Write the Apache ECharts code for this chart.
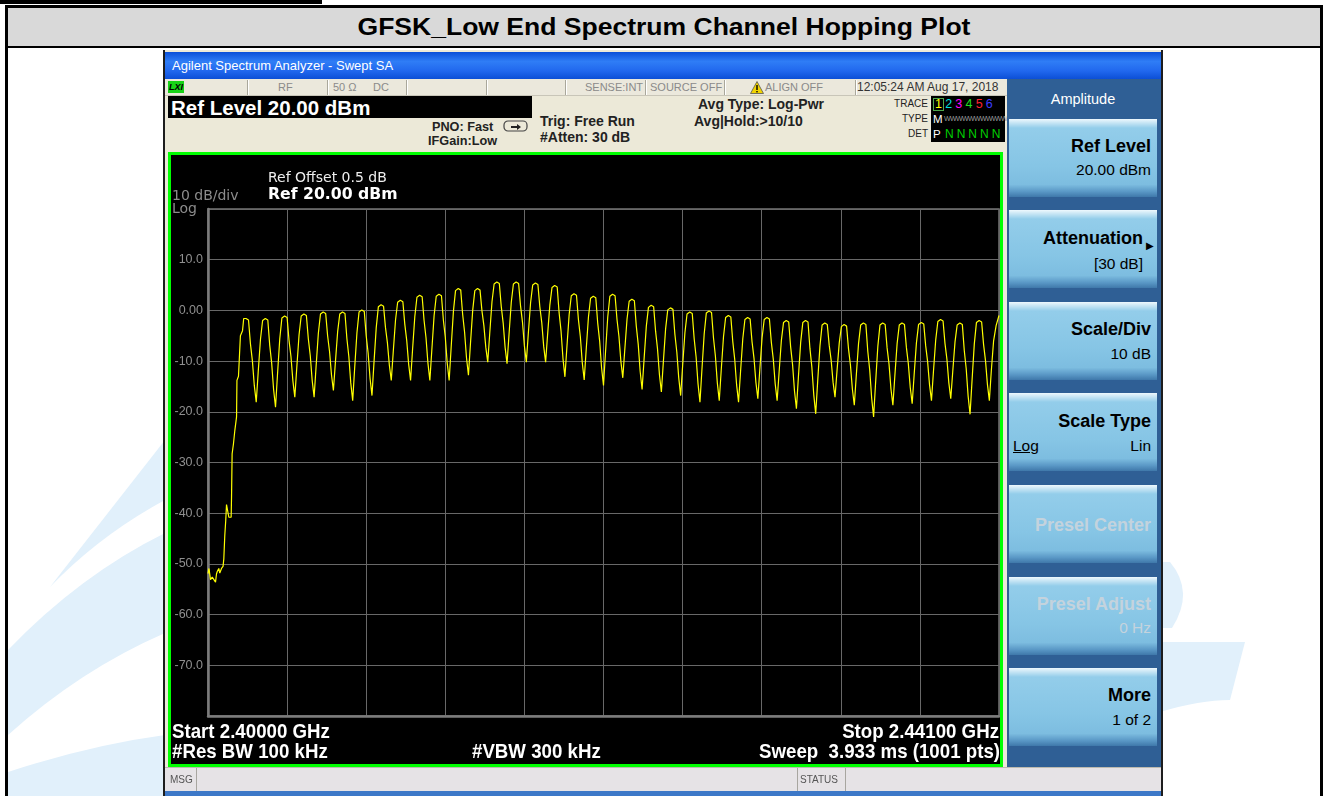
<!DOCTYPE html>
<html><head><meta charset="utf-8">
<script src="https://cdn.jsdelivr.net/npm/echarts@6/dist/echarts.min.js"></script>
<style>
html,body{margin:0;padding:0;width:1328px;height:796px;overflow:hidden;background:#fff;font-family:"Liberation Sans",Arial,sans-serif;}
.a{position:absolute;white-space:nowrap;}
.sep{position:absolute;top:80px;width:1px;height:15px;background:#a9a79b;border-right:1px solid #fff;}
.st{position:absolute;top:81px;font-size:11px;color:#8a8a8a;line-height:13px;}
.btn{position:absolute;left:1009px;width:148px;height:78px;background:linear-gradient(to bottom,#eef8fd 0px,#cfe9f6 3px,#93cdea 9px,#86c5e5 60%,#7dbde0 84%,#5a98c6 93%,#3f78aa 100%);}
.bt{position:absolute;right:6px;font-weight:bold;font-size:18px;color:#000;line-height:20px;}
.bv{position:absolute;right:6px;font-size:15.5px;color:#000;line-height:18px;}
.dim{color:#c4d3dd;}
.w{color:#fff;font-weight:bold;}
.dv{font-family:"DejaVu Sans","Liberation Sans",sans-serif;}
.nl{font-size:21px;line-height:22px;transform:scaleX(0.89);transform-origin:0 50%;}
.nr{font-size:21px;line-height:22px;transform:scaleX(0.89);transform-origin:100% 50%;text-align:right;}
</style></head><body>
<svg class="a" style="left:0;top:0" width="1328" height="796">
  <path d="M50,587 L165,440 L165,500 Q100,535 50,587 Z" fill="#e1f0fb"/>
  <path d="M8,650 Q80,575 165,533 L165,633 Q80,670 8,735 Z" fill="#e1f0fb"/>
  <path d="M8,772 Q90,745 165,735 L165,796 L8,796 Z" fill="#e1f0fb"/>
  <path d="M1160,562 L1170,562 Q1195,592 1172,628 L1160,628 Z" fill="#e1f0fb"/>
  <path d="M1160,642 L1245,642 L1230,700 Q1200,700 1160,712 Z" fill="#e1f0fb"/>
</svg>
<!-- document table -->
<div class="a" style="left:0;top:0;width:322px;height:4px;background:#000"></div>
<div class="a" style="left:5px;top:5px;width:1318px;height:800px;border:3px solid #000;box-sizing:border-box;border-bottom:none;"></div>
<div class="a" style="left:8px;top:8px;width:1312px;height:38px;background:#d9d9d9;border-bottom:2px solid #000;"></div>
<div class="a" style="left:8px;top:12px;width:1312px;text-align:center;font-weight:bold;font-size:24px;line-height:30px;color:#000;transform:scaleX(1.105);transform-origin:50% 50%;">GFSK_Low End Spectrum Channel Hopping Plot</div>

<!-- analyzer window -->
<div class="a" style="left:163px;top:50px;width:1000px;height:746px;background:#ece9d8;border-left:2px solid #1d1d1d;border-right:2px solid #1d1d1d;box-sizing:border-box;"></div>
<div class="a" style="left:165px;top:52px;width:996px;height:27px;background:linear-gradient(to bottom,#0a4fd8 0%,#2f7df6 35%,#2168ee 70%,#0c4fd6 100%);"></div>
<div class="a" style="left:172px;top:58px;font-size:13px;color:#fff;line-height:15px;">Agilent Spectrum Analyzer - Swept SA</div>
<!-- status row -->
<div class="a" style="left:165px;top:79px;width:842px;height:16px;background:#ebe8dc;border-bottom:1px solid #c8c5b8;"></div>
<div class="a" style="left:168px;top:81px;width:16px;height:12px;background:#17d217;font-size:9px;font-weight:bold;font-style:italic;line-height:12px;text-align:center;color:#000;">LXI</div>
<div class="sep" style="left:247px"></div><div class="sep" style="left:327px"></div><div class="sep" style="left:406px"></div>
<div class="sep" style="left:486px"></div><div class="sep" style="left:565px"></div><div class="sep" style="left:645px"></div>
<div class="sep" style="left:724px"></div><div class="sep" style="left:855px"></div>
<div class="st" style="left:278px">RF</div>
<div class="st" style="left:333px">50 Ω</div>
<div class="st" style="left:373px">DC</div>
<div class="st" style="left:585px">SENSE:INT</div>
<div class="st" style="left:650px">SOURCE OFF</div>
<svg class="a" style="left:750px;top:81px" width="14" height="13"><path d="M7,0.5 L13.5,12.5 L0.5,12.5 Z" fill="#f2d400" stroke="#555" stroke-width="0.8"/><rect x="6.3" y="4" width="1.4" height="5" fill="#000"/><rect x="6.3" y="10" width="1.4" height="1.4" fill="#000"/></svg>
<div class="st" style="left:765px">ALIGN OFF</div>
<div class="st" style="left:857px;color:#333;font-size:12px">12:05:24 AM Aug 17, 2018</div>
<!-- info row -->
<div class="a" style="left:168px;top:96px;width:364px;height:22px;background:#000;"></div>
<div class="a" style="left:171px;top:96px;font-size:20.5px;color:#fff;font-weight:bold;line-height:23px;">Ref Level 20.00 dBm</div>
<div class="a" style="left:432px;top:120px;font-size:12.7px;font-weight:bold;color:#222;line-height:14px;">PNO: Fast</div>
<div class="a" style="left:428px;top:134px;font-size:12.7px;font-weight:bold;color:#222;line-height:14px;">IFGain:Low</div>
<svg class="a" style="left:503px;top:120px" width="26" height="14"><rect x="1" y="1" width="23" height="10" rx="4" fill="none" stroke="#444" stroke-width="1.2"/><path d="M8,6 L14,6 L14,4 L18,7 L14,10 L14,8 L8,8 Z" fill="#222"/></svg>
<div class="a" style="left:540px;top:113px;font-size:14px;font-weight:bold;color:#222;line-height:16px;">Trig: Free Run</div>
<div class="a" style="left:540px;top:129px;font-size:14px;font-weight:bold;color:#222;line-height:16px;">#Atten: 30 dB</div>
<div class="a" style="left:698px;top:96px;font-size:14px;font-weight:bold;color:#222;line-height:16px;">Avg Type: Log-Pwr</div>
<div class="a" style="left:694px;top:113px;font-size:14px;font-weight:bold;color:#222;line-height:16px;">Avg|Hold:&gt;10/10</div>
<div class="a" style="left:880px;top:98px;width:48px;text-align:right;font-size:10px;color:#222;line-height:12px;">TRACE</div>
<div class="a" style="left:880px;top:113px;width:48px;text-align:right;font-size:10px;color:#222;line-height:12px;">TYPE</div>
<div class="a" style="left:880px;top:128px;width:48px;text-align:right;font-size:10px;color:#222;line-height:12px;">DET</div>
<div class="a" style="left:931px;top:96px;width:74px;height:46px;background:#000;"></div>
<div class="a" style="left:933px;top:98px;width:11px;height:13px;border:1px solid #4ca64c;box-sizing:border-box;"></div>
<div class="a" style="left:935px;top:97px;font-size:12.5px;line-height:15px;letter-spacing:3.2px;"><span style="color:#ffff00">1</span><span style="color:#00e0e0">2</span><span style="color:#ff00ff">3</span><span style="color:#20e020">4</span><span style="color:#ff2030">5</span><span style="color:#3c3cff">6</span></div>
<div class="a" style="left:933px;top:112px;font-size:11.5px;line-height:14px;color:#fff;">M</div>
<div class="a" style="left:944px;top:113px;font-size:7px;line-height:12px;color:#9a9a9a;letter-spacing:-0.6px;">WWWWWWWWWWWW</div>
<div class="a" style="left:933px;top:127px;font-size:11.5px;line-height:14px;color:#fff;">P</div>
<div class="a" style="left:945px;top:127px;font-size:12px;line-height:14px;color:#00d000;letter-spacing:3px;">NNNNN</div>

<!-- plot frame -->
<div class="a" style="left:168px;top:152px;width:835px;height:615px;border:3px solid #00ff00;box-sizing:border-box;background:#000;"></div>
<div id="chart" class="a" style="left:171px;top:155px;width:829px;height:609px;"></div>
<div class="a dv" style="left:268px;top:169px;font-size:14px;color:#eee;line-height:16px;">Ref Offset 0.5 dB</div>
<div class="a dv w" style="left:268px;top:185px;font-size:15.7px;line-height:18px;">Ref 20.00 dBm</div>
<div class="a dv" style="left:172px;top:187px;font-size:14px;color:#8c8c8c;line-height:16px;">10 dB/div</div>
<div class="a dv" style="left:172px;top:200px;font-size:14px;color:#8c8c8c;line-height:16px;">Log</div>
<div class="a w nl" style="left:172px;top:720px;">Start 2.40000 GHz</div>
<div class="a w nr" style="left:699px;width:300px;top:720px;">Stop 2.44100 GHz</div>
<div class="a w nl" style="left:172px;top:740px;">#Res BW 100 kHz</div>
<div class="a w nl" style="left:472px;top:740px;">#VBW 300 kHz</div>
<div class="a w nr" style="left:600px;width:400px;top:740px;">Sweep&nbsp; 3.933 ms (1001 pts)</div>

<!-- msg bar -->
<div class="a" style="left:165px;top:767px;width:996px;height:24px;background:#e6e3e6;border-top:1px solid #bdbab0;"></div>
<div class="a" style="left:196px;top:768px;width:1px;height:23px;background:#a8a6a0;"></div>
<div class="a" style="left:797px;top:768px;width:1px;height:23px;background:#a8a6a0;"></div>
<div class="a" style="left:845px;top:768px;width:1px;height:23px;background:#a8a6a0;"></div>
<div class="a" style="left:170px;top:774px;font-size:10px;color:#555;line-height:12px;">MSG</div>
<div class="a" style="left:800px;top:774px;font-size:10px;color:#555;line-height:12px;">STATUS</div>
<div class="a" style="left:165px;top:791px;width:996px;height:5px;background:#3d78c8;"></div>

<!-- softkey panel -->
<div class="a" style="left:1007px;top:79px;width:154px;height:688px;background:#2f5f95;"></div>
<div class="a" style="left:1009px;top:90px;width:148px;text-align:center;font-size:14.5px;color:#fff;line-height:18px;">Amplitude</div>
<div class="btn" style="top:119px"><div class="bt" style="top:17px">Ref Level</div><div class="bv" style="top:42px">20.00 dBm</div></div>
<div class="btn" style="top:210px"><div class="bt" style="top:18px;right:14px">Attenuation</div><div class="a" style="right:3px;top:30px;font-size:10px;color:#000;">&#9654;</div><div class="bv" style="top:45px;right:14px">[30 dB]</div></div>
<div class="btn" style="top:302px"><div class="bt" style="top:17px">Scale/Div</div><div class="bv" style="top:43px">10 dB</div></div>
<div class="btn" style="top:393px"><div class="bt" style="top:18px">Scale Type</div><div class="bv" style="top:44px;left:4px;right:auto;text-decoration:underline;">Log</div><div class="bv" style="top:44px">Lin</div></div>
<div class="btn" style="top:485px"><div class="bt dim" style="top:30px">Presel Center</div></div>
<div class="btn" style="top:577px"><div class="bt dim" style="top:17px">Presel Adjust</div><div class="bv dim" style="top:42px">0 Hz</div></div>
<div class="btn" style="top:668px"><div class="bt" style="top:17px">More</div><div class="bv" style="top:43px">1 of 2</div></div>

<script>
// Frequency axis: offsets in MHz from the start frequency
const startMHz = 2400;
const stopMHz = 2441;
const refLevel = 20;      // dBm, top of graticule
const bottomLevel = -80;  // dBm, bottom of graticule
const yTickLabels = {"10":"10.0","0":"0.00","-10":"-10.0","-20":"-20.0","-30":"-30.0","-40":"-40.0","-50":"-50.0","-60":"-60.0","-70":"-70.0"};

// trace 1 readings: [MHz offset from start, dBm]
const traceSkirt = [
[0.00,-51.9],[0.05,-50.9],[0.09,-51.0],[0.13,-53.1],[0.22,-52.6],[0.30,-52.8],[0.39,-53.6],[0.44,-52.0],[0.48,-51.5],[0.56,-50.9],
[0.61,-51.8],[0.65,-51.8],[0.70,-50.9],[0.78,-50.5],[0.82,-49.0],[0.87,-44.4],[0.92,-41.4],[0.96,-38.3],[1.05,-38.5],[1.08,-40.8],
[1.20,-40.8],[1.22,-36.8],[1.25,-28.3],[1.32,-26.3],[1.39,-23.7],[1.48,-21.0],[1.50,-13.8],[1.58,-13.0],[1.68,-5.0],[1.79,-4.0],[1.85,-1.6]
];
const traceLow = [
[1.97,-1.6],[2.1,-1.9],[2.2,-6.6],[2.3,-9.9],[2.4,-14.8],[2.5,-18.1],
[2.6,-12.3],[2.72,-5.7],[2.83,-2.0],[2.97,-1.6],[3.1,-1.9],[3.2,-6.9],[3.3,-10.4],[3.4,-15.6],[3.5,-19.1],
[3.6,-12.8],[3.72,-5.6],[3.83,-1.5],[3.97,-1.1],[4.1,-1.4],[4.2,-5.9],[4.3,-9.1],[4.4,-13.9],[4.5,-17.1],
[4.6,-11.4],[4.72,-4.8],[4.83,-1.1],[4.97,-0.7],[5.1,-1.0],[5.2,-5.6],[5.3,-8.9],[5.4,-13.8],[5.5,-17.1],
[5.6,-11.2],[5.72,-4.5],[5.83,-0.7],[5.97,-0.3],[6.1,-0.6],[6.2,-5.0],[6.3,-8.1],[6.4,-12.7],[6.5,-15.8],
[6.6,-10.4],[6.72,-4.2],[6.83,-0.7],[6.97,-0.3],[7.1,-0.6],[7.2,-5.6],[7.3,-9.1],[7.4,-14.3],[7.5,-17.8],
[7.6,-11.5],[7.72,-4.4],[7.83,-0.3],[7.97,0.1],[8.1,-0.2],[8.2,-5.0],[8.3,-8.4],[8.4,-13.4],[8.5,-16.8],
[8.6,-10.5],[8.72,-3.4],[8.83,0.7],[8.97,1.1],[9.1,0.8],[9.2,-3.4],[9.3,-6.4],[9.4,-10.8],[9.5,-13.8],
[9.6,-8.3],[9.72,-1.9],[9.83,1.6],[9.97,2.0],[10.1,1.7],[10.2,-2.7],[10.3,-5.9],[10.4,-10.6],[10.5,-13.8],
[10.6,-7.9],[10.72,-1.2],[10.83,2.6],[10.97,3.0],[11.1,2.7],[11.2,-2.0],[11.3,-5.4],[11.4,-10.4],[11.5,-13.8],
[11.6,-7.9],[11.72,-1.0],[11.83,2.8],[11.97,3.2],[12.1,2.9],[12.2,-1.9],[12.3,-5.3],[12.4,-10.4],[12.5,-13.8],
[12.6,-7.5],[12.72,-0.2],[12.83,3.9],[12.97,4.3],[13.1,4.0],[13.2,-0.8],[13.3,-4.3],[13.4,-9.4],[13.5,-12.8]
];
const traceMid = [
[13.6,-6.8],[13.72,0.0],[13.83,3.9],[13.97,4.3],[14.1,4.0],[14.2,-0.1],[14.3,-3.0],[14.4,-7.3],[14.5,-10.2],
[14.6,-4.7],[14.72,1.7],[14.83,5.2],[14.97,5.6],[15.1,5.3],[15.2,0.8],[15.3,-2.5],[15.4,-7.3],[15.5,-10.5],
[15.6,-4.9],[15.72,1.6],[15.83,5.2],[15.97,5.6],[16.1,5.3],[16.2,0.9],[16.3,-2.3],[16.4,-7.0],[16.5,-10.2],
[16.6,-4.7],[16.72,1.5],[16.83,5.0],[16.97,5.4],[17.1,5.1],[17.2,0.7],[17.3,-2.4],[17.4,-7.1],[17.5,-10.2],
[17.6,-4.9],[17.72,1.1],[17.83,4.5],[17.97,4.9],[18.1,4.6],[18.2,-0.5],[18.3,-4.1],[18.4,-9.5],[18.5,-13.1],
[18.6,-7.4],[18.72,-0.8],[18.83,2.9],[18.97,3.3],[19.1,3.0],[19.2,-1.8],[19.3,-5.2],[19.4,-10.3],[19.5,-13.7],
[19.6,-7.9],[19.72,-1.3],[19.83,2.4],[19.97,2.8],[20.1,2.5],[20.2,-2.5],[20.3,-6.0],[20.4,-11.3],[20.5,-14.8],
[20.6,-8.5],[20.72,-1.3],[20.83,2.8],[20.97,3.2],[21.1,2.9],[21.2,-1.8],[21.3,-5.1],[21.4,-10.0],[21.5,-13.3],
[21.6,-7.9],[21.72,-1.7],[21.83,1.8],[21.97,2.2],[22.1,1.9],[22.2,-3.1],[22.3,-6.7],[22.4,-12.0],[22.5,-15.6],
[22.6,-9.8],[22.72,-3.1],[22.83,0.6],[22.97,1.0],[23.1,0.7],[23.2,-4.1],[23.3,-7.6],[23.4,-12.7],[23.5,-16.1],
[23.6,-10.3],[23.72,-3.6],[23.83,0.1],[23.97,0.5],[24.1,0.2],[24.2,-4.7],[24.3,-8.2],[24.4,-13.3],[24.5,-16.8],
[24.6,-11.0],[24.72,-4.4],[24.83,-0.7],[24.97,-0.3],[25.1,-0.6],[25.2,-5.6],[25.3,-9.2],[25.4,-14.5],[25.5,-18.1],
[25.6,-11.8],[25.72,-4.6],[25.83,-0.5],[25.97,-0.1],[26.1,-0.4],[26.2,-5.4],[26.3,-9.0],[26.4,-14.3],[26.5,-17.8],
[26.6,-11.9],[26.72,-5.2],[26.83,-1.4],[26.97,-1.0],[27.1,-1.3],[27.2,-6.1],[27.3,-9.6],[27.4,-14.7],[27.5,-18.1]
];
const traceHigh = [
[27.6,-12.3],[27.72,-5.6],[27.83,-1.8],[27.97,-1.4],[28.1,-1.7],[28.2,-6.2],[28.3,-9.4],[28.4,-14.2],[28.5,-17.4],
[28.6,-11.8],[28.72,-5.4],[28.83,-1.8],[28.97,-1.4],[29.1,-1.7],[29.2,-6.3],[29.3,-9.6],[29.4,-14.5],[29.5,-17.8],
[29.6,-12.3],[29.72,-5.9],[29.83,-2.4],[29.97,-2.0],[30.1,-2.3],[30.2,-7.2],[30.3,-10.7],[30.4,-15.9],[30.5,-19.4],
[30.6,-13.3],[30.72,-6.3],[30.83,-2.4],[30.97,-2.0],[31.1,-2.3],[31.2,-7.5],[31.3,-11.2],[31.4,-16.7],[31.5,-20.4],
[31.6,-14.1],[31.72,-7.0],[31.83,-2.9],[31.97,-2.5],[32.1,-2.8],[32.2,-6.9],[32.3,-9.8],[32.4,-14.2],[32.5,-17.1],
[32.6,-12.1],[32.72,-6.4],[32.83,-3.2],[32.97,-2.8],[33.1,-3.1],[33.2,-7.6],[33.3,-10.8],[33.4,-15.5],[33.5,-18.7],
[33.6,-13.0],[33.72,-6.5],[33.83,-2.9],[33.97,-2.5],[34.1,-2.8],[34.2,-8.1],[34.3,-11.8],[34.4,-17.3],[34.5,-21.0],
[34.6,-14.5],[34.72,-7.1],[34.83,-2.9],[34.97,-2.5],[35.1,-2.8],[35.2,-7.4],[35.3,-10.6],[35.4,-15.5],[35.5,-18.7],
[35.6,-13.0],[35.72,-6.5],[35.83,-2.9],[35.97,-2.5],[36.1,-2.8],[36.2,-7.3],[36.3,-10.5],[36.4,-15.2],[36.5,-18.4],
[36.6,-12.8],[36.72,-6.4],[36.83,-2.8],[36.97,-2.4],[37.1,-2.7],[37.2,-7.0],[37.3,-10.1],[37.4,-14.7],[37.5,-17.8],
[37.6,-12.2],[37.72,-5.8],[37.83,-2.2],[37.97,-1.8],[38.1,-2.1],[38.2,-6.5],[38.3,-9.6],[38.4,-14.3],[38.5,-17.4],
[38.6,-12.2],[38.72,-6.2],[38.83,-2.9],[38.97,-2.5],[39.1,-2.8],[39.2,-7.9],[39.3,-11.5],[39.4,-16.9],[39.5,-20.5],
[39.6,-14.0],[39.72,-6.6],[39.83,-2.4],[39.97,-2.0],[40.1,-2.3],[40.2,-6.7],[40.3,-9.9],[40.4,-14.6],[40.5,-17.8],
[40.6,-12.0],[40.72,-6.0],[40.85,-3.0],[41.0,-1.0]
];
const trace = traceSkirt.concat(traceLow, traceMid, traceHigh);

const chart = echarts.init(document.getElementById('chart'), null, {renderer:'canvas'});
chart.setOption({
  animation:false,
  backgroundColor:'#000',
  grid:{left:37,top:54,width:791,height:507,show:true,borderColor:'#767676',borderWidth:1.5,backgroundColor:'#000'},
  xAxis:{type:'value',min:0,max:stopMHz-startMHz,interval:4.1,
    axisLabel:{show:false},axisTick:{show:false},
    axisLine:{show:true,onZero:false,lineStyle:{color:'#7c7c7c',width:2.5}},
    splitLine:{show:true,lineStyle:{color:'#686868',width:1}}},
  yAxis:{type:'value',min:bottomLevel,max:refLevel,interval:10,
    axisLabel:{color:'#8f8f8f',fontSize:12.5,margin:5,fontFamily:'Liberation Sans',
      formatter:v=>yTickLabels[String(v)]||''},
    axisTick:{show:false},
    axisLine:{show:true,onZero:false,lineStyle:{color:'#7c7c7c',width:2.5}},
    splitLine:{show:true,lineStyle:{color:'#686868',width:1}}},
  series:[{type:'line',data:trace,symbol:'none',silent:true,
    lineStyle:{color:'#ffff00',width:1.2}}]
});
</script>
</body></html>
